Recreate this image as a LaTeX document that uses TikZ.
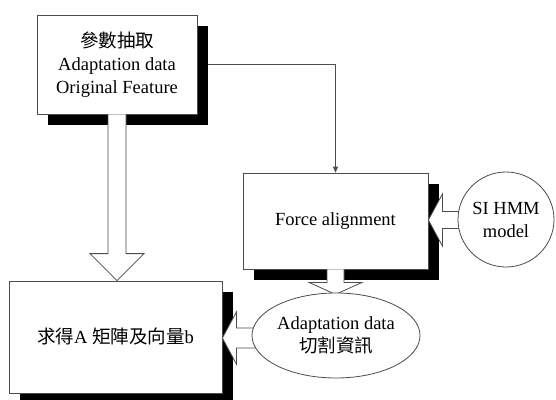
\documentclass[tikz,border=0pt]{standalone}
\usepackage{fontspec}
\setmainfont{Liberation Serif}
\newfontfamily\cjk{Noto Sans CJK TC}
\usetikzlibrary{shadows,calc,shapes.geometric,arrows.meta}
\pgfdeclarelayer{bg}
\pgfsetlayers{bg,main}
\newcommand\han[1]{{\fontsize{18.5}{23}\cjk #1}}

\begin{document}
\begin{tikzpicture}[x=1pt,y=-1pt,
  ink/.style={draw=black!70, line width=0.8pt},
  txt/.style={font=\fontsize{18.5}{23}\selectfont, align=center},
  box/.style={ink, txt, fill=white, rectangle, inner sep=0pt,
    general shadow={fill=black, shadow xshift=11pt, shadow yshift=-11pt}},
  oval/.style={ink, txt, fill=white, ellipse, inner sep=0pt},
  blockarrow/.style={ink, fill=white, line join=miter},
  link/.style={ink, -{Triangle[length=6pt,width=5pt]}},
]
\useasboundingbox (0,0) rectangle (556,399);
\clip (0,0) rectangle (556,399);

% boxes with black drop shadows
\node[box, minimum width=160pt, minimum height=99pt] (feat) at (117,64.5)
  {\han{參數抽取}\\Adaptation data\\Original Feature};
\node[box, minimum width=185pt, minimum height=96pt] (force) at (335.5,221)
  {Force alignment};
\node[box, minimum width=213pt, minimum height=112pt] (res) at (115.5,337)
  {\han{求得}A \han{矩陣及向量}b};

% thin connector from the feature box to the alignment box
\begin{pgfonlayer}{bg}
  \fill[white] (0,0) rectangle (556,399);
  \draw[link] (feat.east) -| (force.north);
\end{pgfonlayer}

% hollow block arrows
\coordinate (a1) at (feat.south);
\coordinate (a2) at (feat.south |- res.north);
\filldraw[blockarrow] ($(a1)+(-9,0)$) -- ($(a2)+(-9,-27)$) -- ($(a2)+(-27,-27)$)
  -- (a2) -- ($(a2)+(27,-27)$) -- ($(a2)+(9,-27)$) -- ($(a1)+(9,0)$);

\coordinate (b1) at (force.south);
\coordinate (b2) at ($(force.south)+(0,25)$);
\filldraw[blockarrow] ($(b1)+(-8.5,0)$) -- ($(b2)+(-8.5,-12)$) -- ($(b2)+(-26.5,-12)$)
  -- (b2) -- ($(b2)+(26.5,-12)$) -- ($(b2)+(8.5,-12)$) -- ($(b1)+(8.5,0)$);

\coordinate (c2) at ($(force.east)+(0,-1)$);
\coordinate (c1) at ($(c2 -| 462,0)$);
\filldraw[blockarrow] ($(c1)+(0,-8.5)$) -- ($(c2)+(14,-8.5)$) -- ($(c2)+(14,-26)$)
  -- (c2) -- ($(c2)+(14,26)$) -- ($(c2)+(14,8.5)$) -- ($(c1)+(0,8.5)$);

\coordinate (d2) at ($(res.east)+(0,1)$);
\coordinate (d1) at ($(d2 -| 256,0)$);
\filldraw[blockarrow] ($(d1)+(0,-10)$) -- ($(d2)+(14,-10)$) -- ($(d2)+(14,-26)$)
  -- (d2) -- ($(d2)+(14,26)$) -- ($(d2)+(14,10)$) -- ($(d1)+(0,10)$);

% ellipses on top of the arrow ends
\node[oval, minimum width=96pt, minimum height=95pt] (si) at (506,219.5)
  {SI HMM\\model};
\node[oval, minimum width=168pt, minimum height=85pt] (seg) at (336,335.5)
  {Adaptation data\\\han{切割資訊}};
\end{tikzpicture}
\end{document}
